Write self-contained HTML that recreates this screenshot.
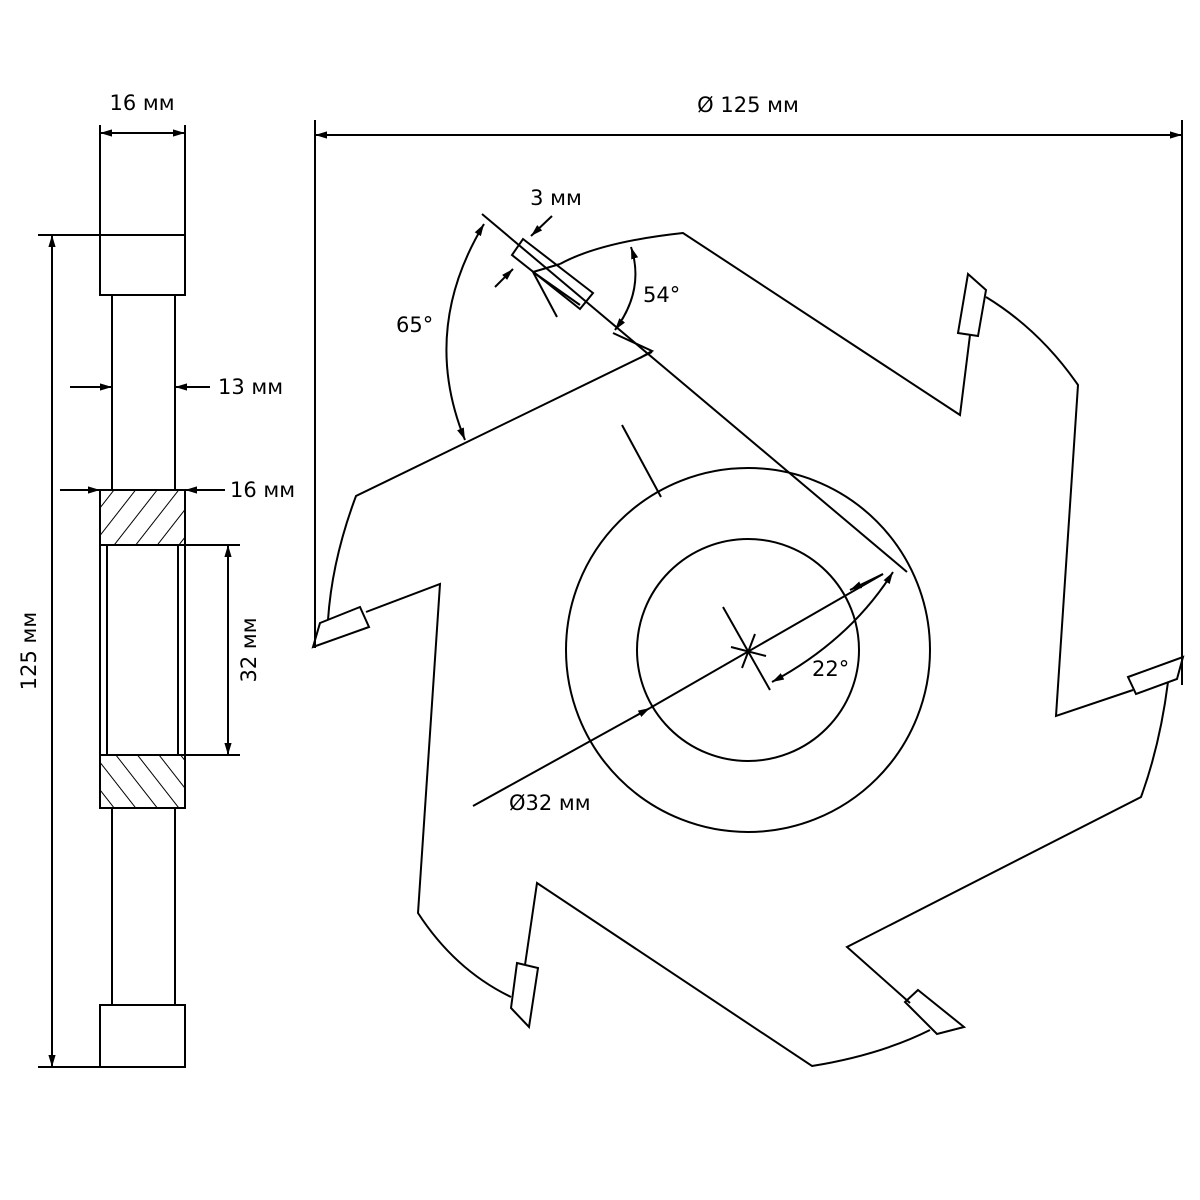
<!DOCTYPE html>
<html><head><meta charset="utf-8"><style>html,body{margin:0;padding:0;background:#fff}svg{display:block}</style></head><body>
<svg width="1200" height="1200" viewBox="0 0 1200 1200" xmlns="http://www.w3.org/2000/svg" font-family="DejaVu Sans, Liberation Sans, sans-serif" font-size="21">
<defs>
<marker id="a" viewBox="0 0 10 10" refX="10" refY="5" markerWidth="12" markerHeight="12" markerUnits="userSpaceOnUse" orient="auto-start-reverse"><path d="M0,2 L10,5 L0,8z" fill="#000"/></marker>
<pattern id="h" patternUnits="userSpaceOnUse" width="17" height="17" patternTransform="rotate(38)"><line x1="0" y1="0" x2="0" y2="17" stroke="#000" stroke-width="2"/></pattern>
<pattern id="h2" patternUnits="userSpaceOnUse" width="17" height="17" patternTransform="rotate(-38)"><line x1="0" y1="0" x2="0" y2="17" stroke="#000" stroke-width="2"/></pattern>
</defs>
<g fill="none" stroke="#000" stroke-width="2">
<rect x="100" y="235" width="85" height="60"/>
<line x1="112" y1="295" x2="112" y2="490"/><line x1="175" y1="295" x2="175" y2="490"/>
<rect x="100" y="490" width="85" height="55" fill="url(#h)"/>
<rect x="100" y="545" width="85" height="210"/>
<line x1="107" y1="545" x2="107" y2="755"/><line x1="178" y1="545" x2="178" y2="755"/>
<rect x="100" y="755" width="85" height="53" fill="url(#h2)"/>
<line x1="112" y1="808" x2="112" y2="1005"/><line x1="175" y1="808" x2="175" y2="1005"/>
<rect x="100" y="1005" width="85" height="62"/>
<line x1="100" y1="125" x2="100" y2="235"/><line x1="185" y1="125" x2="185" y2="235"/>
<line x1="100" y1="133" x2="185" y2="133" marker-start="url(#a)" marker-end="url(#a)"/>
<line x1="38" y1="235" x2="100" y2="235"/><line x1="38" y1="1067" x2="100" y2="1067"/>
<line x1="52" y1="235" x2="52" y2="1067" marker-start="url(#a)" marker-end="url(#a)"/>
<line x1="70" y1="387" x2="112" y2="387" marker-end="url(#a)"/><line x1="210" y1="387" x2="175" y2="387" marker-end="url(#a)"/>
<line x1="60" y1="490" x2="100" y2="490" marker-end="url(#a)"/><line x1="225" y1="490" x2="185" y2="490" marker-end="url(#a)"/>
<line x1="185" y1="545" x2="240" y2="545"/><line x1="185" y1="755" x2="240" y2="755"/>
<line x1="228" y1="545" x2="228" y2="755" marker-start="url(#a)" marker-end="url(#a)"/>
<line x1="315" y1="120" x2="315" y2="648"/><line x1="1182" y1="120" x2="1182" y2="685"/>
<line x1="315" y1="135" x2="1182" y2="135" marker-start="url(#a)" marker-end="url(#a)"/>
<path d="M560,264 Q600,242 683,233 L960,415 L970,335"/>
<polygon points="968,274 986,290 978,336 958,333"/>
<path d="M986,297 Q1040,330 1078,385 L1056,716 L1133,690"/>
<polygon points="1128,677 1183,657 1177,679 1136,694"/>
<path d="M1168,682 Q1160,745 1141,797 L847,947 L910,1003"/>
<polygon points="918,990 964,1027 937,1034 905,1002"/>
<path d="M930,1030 Q880,1055 812,1066 L537,883 L525,965"/>
<polygon points="517,963 538,968 529,1027 511,1008"/>
<path d="M511,997 Q455,970 418,913 L440,584 L366,612"/>
<polygon points="320,623 360,607 369,627 313,647"/>
<path d="M328,620 Q332,560 356,496 L652,352"/>
<polygon points="523,239 593,293 580,309 512,255"/>
<line x1="533" y1="272" x2="560" y2="264"/>
<line x1="533" y1="272" x2="557" y2="317"/>
<line x1="533" y1="272" x2="580" y2="305"/>
<polyline points="613,333 652,351 640,358"/>
<line x1="482" y1="214" x2="907" y2="572"/>
<line x1="552" y1="216" x2="531" y2="236" marker-end="url(#a)"/>
<line x1="495" y1="287" x2="513" y2="269" marker-end="url(#a)"/>
<path d="M484,224 Q420,330 465,440" marker-start="url(#a)" marker-end="url(#a)"/>
<path d="M631,247 Q645,290 615,330" marker-start="url(#a)" marker-end="url(#a)"/>
<circle cx="748" cy="650" r="111"/><circle cx="748" cy="650" r="182"/>
<line x1="473" y1="806" x2="650" y2="708" marker-end="url(#a)"/>
<line x1="650" y1="708" x2="883" y2="574"/>
<line x1="883" y1="574" x2="850" y2="590" marker-end="url(#a)"/>
<path d="M893,572 Q850,640 772,682" marker-start="url(#a)" marker-end="url(#a)"/>
<line x1="723" y1="607" x2="770" y2="690"/>
<line x1="731" y1="647" x2="766" y2="656"/><line x1="755" y1="634" x2="742" y2="668"/>
<line x1="622" y1="425" x2="661" y2="497"/>
</g>
<g fill="#000">
<text x="142" y="110" text-anchor="middle">16 мм</text>
<text x="218" y="394">13 мм</text>
<text x="230" y="497">16 мм</text>
<text transform="translate(36,651) rotate(-90)" text-anchor="middle">125 мм</text>
<text transform="translate(256,650) rotate(-90)" text-anchor="middle">32 мм</text>
<text x="748" y="112" text-anchor="middle">Ø 125 мм</text>
<text x="556" y="205" text-anchor="middle">3 мм</text>
<text x="396" y="332">65°</text>
<text x="643" y="302">54°</text>
<text x="812" y="676">22°</text>
<text x="509" y="810">Ø32 мм</text>
</g>
</svg>
</body></html>
